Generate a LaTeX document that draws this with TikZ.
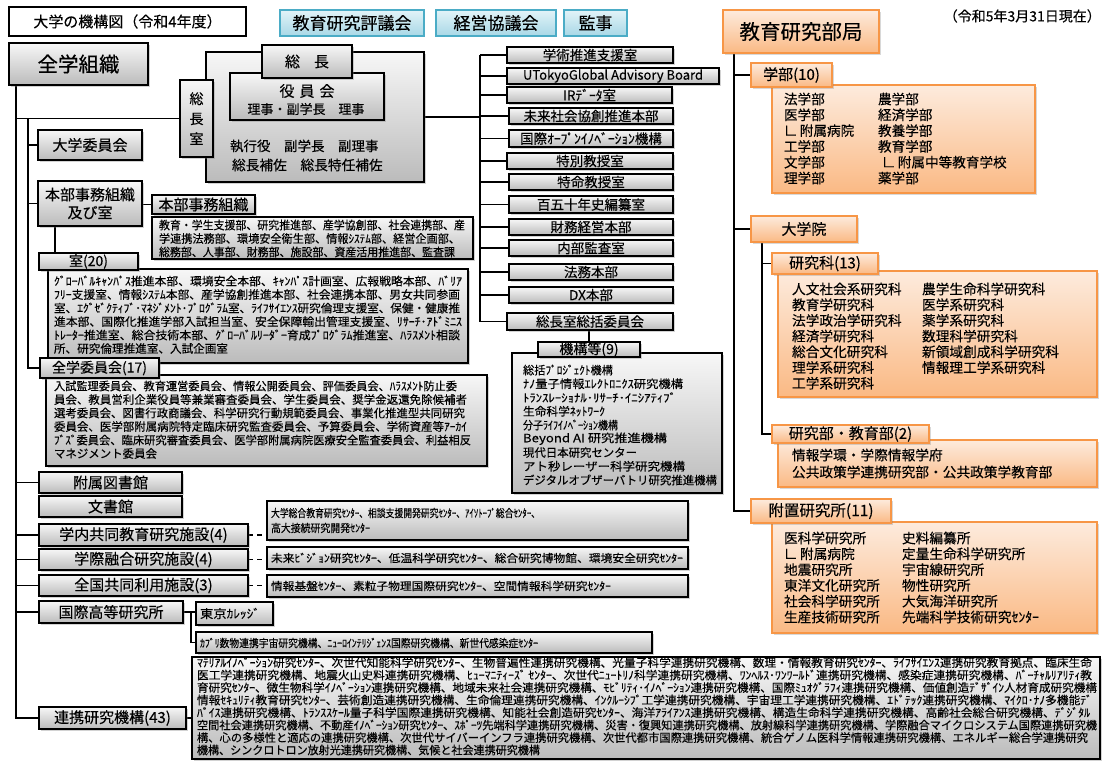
\documentclass[tikz,border=0pt]{standalone}
\usepackage{fontspec}
\setmainfont{Noto Sans CJK JP}[FakeBold=0.25]
\usepackage{graphicx}
\usetikzlibrary{shadows}
\pgfdeclarelayer{bg}
\pgfsetlayers{bg,main}
\definecolor{gtop}{HTML}{F7F7F7}
\definecolor{gbot}{HTML}{BBBBBB}
\definecolor{otop}{HTML}{FDEBDD}
\definecolor{obot}{HTML}{FAB984}
\definecolor{oline}{HTML}{F79646}
\definecolor{btop}{HTML}{E2F3F8}
\definecolor{bbot}{HTML}{A8D8E6}
\definecolor{bline}{HTML}{4BACC6}
\newcommand{\fs}[1]{\fontsize{#1}{#1}\selectfont}
\newcommand{\mybox}[7][]{\node[anchor=north west,inner sep=0pt,outer sep=0pt,minimum width=#5pt-#3pt,minimum height=#6pt-#4pt,#1] (#2) at (#3,#4) {#7};}
\newcommand{\myline}[6][11.5]{\node[anchor=west,inner sep=0pt,outer sep=0pt,font=\fs{#1}] (#2) at (#3,#4) {\resizebox{#5pt}{\height}{#6}};}
\begin{document}
\begin{tikzpicture}[x=1pt,y=-1pt,
  gbox/.style={draw=black,line width=1.2pt,top color=gtop,bottom color=gbot,drop shadow={shadow xshift=1.5pt,shadow yshift=-1.5pt,opacity=0.35}},
  obox/.style={draw=oline,line width=1.2pt,top color=otop,bottom color=obot,drop shadow={shadow xshift=1.5pt,shadow yshift=-1.5pt,opacity=0.3}},
  bbox/.style={draw=bline,line width=1.2pt,top color=btop,bottom color=bbot},
  wbox/.style={draw=black,line width=1.2pt,fill=white},
  conn/.style={draw=black,line width=1.2pt},
  dconn/.style={conn,dash pattern=on 5pt off 4pt},
  lbl/.style={anchor=west,inner sep=0pt,outer sep=0pt}]
\useasboundingbox (0,0) rectangle (1110,761);

% ---------- top row
\mybox[wbox,font=\fs{15}]{title}{9}{7}{246}{36}{大学の機構図（令和4年度）}
\mybox[bbox,font=\fs{17}]{hyogi}{280}{10}{424}{36}{教育研究評議会}
\mybox[bbox,font=\fs{17}]{keiei}{436}{10}{556}{36}{経営協議会}
\mybox[bbox,font=\fs{17}]{kanji}{564}{10}{627}{36}{監事}
\node[anchor=east,inner sep=0pt,font=\fs{14}] (date) at (1101,16) {（令和5年3月31日現在）};

\mybox[gbox,font=\fs{20.5}]{zengaku}{9}{43}{148}{85}{全学組織}

% ---------- president group
\mybox[gbox]{socho}{206}{52}{424}{182}{}
\mybox[gbox]{yakuin}{230}{73}{384}{120}{}
\mybox[gbox,font=\fs{15}]{sochot}{262}{45}{352}{78}{総\hspace{14pt}長}
\node[font=\fs{15},inner sep=0pt] (yakuint) at (307,91) {役\hspace{5pt}員\hspace{5pt}会};
\node[font=\fs{13},inner sep=0pt] (yakuins) at (306,109) {理事・副学長　理事};
\node[lbl,font=\fs{13.5}] (shikko) at (230,146) {執行役　副学長　副理事};
\node[lbl,font=\fs{13.7}] (hosa) at (232,165) {総長補佐　総長特任補佐};
\mybox[gbox,font=\fs{14},align=center]{soshitsu}{180}{80}{213}{157}{総\\[6pt]長\\[6pt]室}

% ---------- left column
\mybox[gbox,font=\fs{15}]{daiiin}{38}{130}{142}{160}{大学委員会}
\mybox[gbox,font={\fontsize{15}{18}\selectfont},align=center]{honbuoyobi}{38}{181}{142}{226}{本部事務組織\\及び室}

\mybox[gbox]{honbut}{152}{217}{473}{259}{}
\mybox[gbox,font=\fs{15}]{honbuh}{152}{195}{255}{214}{本部事務組織}
\myline{hb1}{159}{225}{306}{教育・学生支援部、研究推進部、産学協創部、社会連携部、産}
\myline{hb2}{159}{238.5}{301}{学連携法務部、環境安全衛生部、情報ｼｽﾃﾑ部、経営企画部、}
\myline{hb3}{159}{252}{296}{総務部、人事部、財務部、施設部、資産活用推進部、監査課}

\mybox[gbox]{shitsut}{48}{269}{468}{363}{}
\mybox[gbox,font=\fs{14}]{shitsuh}{39}{253}{138}{270}{室(20)}
\myline{sh1}{54}{281}{408}{ｸﾞﾛｰﾊﾞﾙｷｬﾝﾊﾟｽ推進本部、環境安全本部、ｷｬﾝﾊﾟｽ計画室、広報戦略本部、ﾊﾞﾘｱ}
\myline{sh2}{54}{294.5}{406}{ﾌﾘｰ支援室、情報ｼｽﾃﾑ本部、産学協創推進本部、社会連携本部、男女共同参画}
\myline{sh3}{54}{308}{406}{室、ｴｸﾞｾﾞｸﾃｨﾌﾞ･ﾏﾈｼﾞﾒﾝﾄ･ﾌﾟﾛｸﾞﾗﾑ室、ﾗｲﾌｻｲｴﾝｽ研究倫理支援室、保健・健康推}
\myline{sh4}{54}{321.5}{408}{進本部、国際化推進学部入試担当室、安全保障輸出管理支援室、ﾘｻｰﾁ･ｱﾄﾞﾐﾆｽ}
\myline{sh5}{54}{335}{406}{ﾄﾚｰﾀｰ推進室、総合技術本部、ｸﾞﾛｰﾊﾞﾙﾘｰﾀﾞｰ育成ﾌﾟﾛｸﾞﾗﾑ推進室、ﾊﾗｽﾒﾝﾄ相談}
\myline{sh6}{54}{348.5}{174}{所、研究倫理推進室、入試企画室}

\mybox[gbox]{zgt}{46}{375}{487}{466}{}
\mybox[gbox,font=\fs{14}]{zgh}{40}{358}{159}{378}{全学委員会(17)}
\myline{zg1}{54}{386}{403}{入試監理委員会、教育運営委員会、情報公開委員会、評価委員会、ﾊﾗｽﾒﾝﾄ防止委}
\myline{zg2}{54}{399.5}{413}{員会、教員営利企業役員等兼業審査委員会、学生委員会、奨学金返還免除候補者}
\myline{zg3}{54}{413}{411}{選考委員会、図書行政商議会、科学研究行動規範委員会、事業化推進型共同研究}
\myline{zg4}{54}{426.5}{413}{委員会、医学部附属病院特定臨床研究監査委員会、予算委員会、学術資産等ｱｰｶｲ}
\myline{zg5}{54}{440}{417}{ﾌﾞｽﾞ委員会、臨床研究審査委員会、医学部附属病院医療安全監査委員会、利益相反}
\myline{zg6}{54}{453.5}{103}{マネジメント委員会}

\mybox[gbox,font=\fs{15}]{fuzoku}{39}{472}{182}{493}{附属図書館}
\mybox[gbox,font=\fs{15}]{bunsho}{39}{496}{182}{517}{文書館}
\mybox[gbox,font=\fs{15}]{gakunai}{39}{524}{248}{546}{学内共同教育研究施設(4)}
\mybox[gbox,font=\fs{15}]{gakusai}{39}{549}{248}{570}{学際融合研究施設(4)}
\mybox[gbox,font=\fs{15}]{zenkoku}{39}{575}{248}{596}{全国共同利用施設(3)}
\mybox[gbox,font=\fs{15}]{kokusai}{39}{601}{183}{623}{国際高等研究所}
\mybox[gbox,font=\fs{15}]{renkei}{39}{707}{186}{729}{連携研究機構(43)}

\mybox[gbox]{gakunait}{267}{501}{688}{540}{}
\myline[11]{gn1}{271}{513}{269}{大学総合教育研究ｾﾝﾀｰ、相談支援開発研究ｾﾝﾀｰ、ｱｲｿﾄｰﾌﾟ総合ｾﾝﾀｰ、}
\myline[11]{gn2}{271}{528}{99}{高大接続研究開発ｾﾝﾀｰ}
\mybox[gbox]{gakusait}{267}{547}{688}{569}{}
\myline[11]{gs1}{271}{558}{412}{未来ﾋﾞｼﾞｮﾝ研究ｾﾝﾀｰ、低温科学研究ｾﾝﾀｰ、総合研究博物館、環境安全研究ｾﾝﾀｰ}
\mybox[gbox]{zenkokut}{267}{575}{688}{597}{}
\myline[11]{zk1}{271}{586}{340}{情報基盤ｾﾝﾀｰ、素粒子物理国際研究ｾﾝﾀｰ、空間情報科学研究ｾﾝﾀｰ}
\mybox[gbox]{tokyo}{196}{602}{273}{625}{}
\myline[12]{tk1}{200}{613.5}{60}{東京ｶﾚｯｼﾞ}
\mybox[gbox]{kavli}{196}{632}{652}{653}{}
\myline[11]{kv1}{200}{643}{338}{ｶﾌﾞﾘ数物連携宇宙研究機構、ﾆｭｰﾛｲﾝﾃﾘｼﾞｪﾝｽ国際研究機構、新世代感染症ｾﾝﾀｰ}

\mybox[gbox]{renkeit}{192}{657}{1100}{759}{}
\myline{rk1}{197}{662.5}{895}{ﾏﾃﾘｱﾙｲﾉﾍﾞｰｼｮﾝ研究ｾﾝﾀｰ、次世代知能科学研究ｾﾝﾀｰ、生物普遍性連携研究機構、光量子科学連携研究機構、数理・情報教育研究ｾﾝﾀｰ、ﾗｲﾌｻｲｴﾝｽ連携研究教育拠点、臨床生命}
\myline{rk2}{197}{675}{895}{医工学連携研究機構、地震火山史料連携研究機構、ﾋｭｰﾏﾆﾃｨｰｽﾞ ｾﾝﾀｰ、次世代ﾆｭｰﾄﾘﾉ科学連携研究機構、ﾜﾝﾍﾙｽ･ﾜﾝﾜｰﾙﾄﾞ連携研究機構、感染症連携研究機構、ﾊﾞｰﾁｬﾙﾘｱﾘﾃｨ教}
\myline{rk3}{197}{687.5}{900}{育研究ｾﾝﾀｰ、微生物科学ｲﾉﾍﾞｰｼｮﾝ連携研究機構、地域未来社会連携研究機構、ﾓﾋﾞﾘﾃｨ･ｲﾉﾍﾞｰｼｮﾝ連携研究機構、国際ﾐｭｵｸﾞﾗﾌｨ連携研究機構、価値創造ﾃﾞｻﾞｲﾝ人材育成研究機構}
\myline{rk4}{197}{700}{895}{情報ｾｷｭﾘﾃｨ教育研究ｾﾝﾀｰ、芸術創造連携研究機構、生命倫理連携研究機構、ｲﾝｸﾙｰｼﾌﾞ工学連携研究機構、宇宙理工学連携研究機構、ｴﾄﾞﾃｯｸ連携研究機構、ﾏｲｸﾛ･ﾅﾉ多機能ﾃﾞ}
\myline{rk5}{197}{712.5}{893}{ﾊﾞｲｽ連携研究機構、ﾄﾗﾝｽｽｹｰﾙ量子科学国際連携研究機構、知能社会創造研究ｾﾝﾀｰ、海洋ｱﾗｲｱﾝｽ連携研究機構、構造生命科学連携研究機構、高齢社会総合研究機構、ﾃﾞｼﾞﾀﾙ}
\myline{rk6}{197}{725}{900}{空間社会連携研究機構、不動産ｲﾉﾍﾞｰｼｮﾝ研究ｾﾝﾀｰ、ｽﾎﾟｰﾂ先端科学連携研究機構、災害・復興知連携研究機構、放射線科学連携研究機構、学際融合マイクロシステム国際連携研究機}
\myline{rk7}{197}{737.5}{891}{構、心の多様性と適応の連携研究機構、次世代サイバーインフラ連携研究機構、次世代都市国際連携研究機構、統合ゲノム医科学情報連携研究機構、エネルギー総合学連携研究}
\myline{rk8}{197}{750}{343}{機構、シンクロトロン放射光連携研究機構、気候と社会連携研究機構}

% ---------- president's office column
\mybox[gbox,font=\fs{13.5}]{gakujutsu}{507}{47}{673}{63}{学術推進支援室}
\mybox[gbox,font=\fs{13}]{utokyo}{507}{68}{719}{84}{UTokyoGlobal Advisory Board}
\mybox[gbox,font=\fs{13.5}]{irdata}{507}{87}{672}{103}{IRﾃﾞｰﾀ室}
\mybox[gbox,font=\fs{13.5}]{miraisha}{509}{108}{673}{124}{未来社会協創推進本部}
\mybox[gbox,font=\fs{13.5}]{openinno}{509}{130}{673}{147}{国際ｵｰﾌﾟﾝｲﾉﾍﾞｰｼｮﾝ機構}
\mybox[gbox,font=\fs{13.5}]{tokubetsu}{507}{153}{673}{169}{特別教授室}
\mybox[gbox,font=\fs{13.5}]{tokumei}{509}{174}{673}{190}{特命教授室}
\mybox[gbox,font=\fs{13.5}]{hyakugo}{509}{196}{673}{213}{百五十年史編纂室}
\mybox[gbox,font=\fs{13.5}]{zaimu}{509}{219}{673}{235}{財務経営本部}
\mybox[gbox,font=\fs{13.5}]{naibu}{509}{240}{673}{256}{内部監査室}
\mybox[gbox,font=\fs{13.5}]{homu}{509}{264}{673}{280}{法務本部}
\mybox[gbox,font=\fs{13.5}]{dxhq}{509}{287}{673}{303}{DX本部}
\mybox[gbox,font=\fs{13.5}]{sokatsu}{507}{313}{673}{330}{総長室総括委員会}

\mybox[gbox]{kikout}{512}{353}{722}{493}{}
\mybox[gbox,font=\fs{14}]{kikouh}{538}{342}{640}{357}{機構等(9)}
\myline{kk1}{523}{370}{90}{総括ﾌﾟﾛｼﾞｪｸﾄ機構}
\myline{kk2}{523}{383.75}{160}{ﾅﾉ量子情報ｴﾚｸﾄﾛﾆｸｽ研究機構}
\myline{kk3}{523}{397.5}{153}{ﾄﾗﾝｽﾚｰｼｮﾅﾙ･ﾘｻｰﾁ･ｲﾆｼｱﾃｨﾌﾞ}
\myline{kk4}{523}{411.25}{82}{生命科学ﾈｯﾄﾜｰｸ}
\myline{kk5}{523}{425}{95}{分子ﾗｲﾌｲﾉﾍﾞｰｼｮﾝ機構}
\myline{kk6}{523}{438.75}{144}{Beyond AI 研究推進機構}
\myline{kk7}{523}{452.5}{114}{現代日本研究センター}
\myline{kk8}{523}{466.25}{162}{アト秒レーザー科学研究機構}
\myline{kk9}{523}{480}{194}{デジタルオブザーバトリ研究推進機構}

% ---------- right side (orange)
\mybox[obox,font=\fs{20.5}]{kyoiku}{723}{10}{879}{53}{教育研究部局}
\mybox[obox]{gakubut}{772}{85}{1035}{193}{}
\mybox[obox,font=\fs{15}]{gakubuh}{751}{63}{832}{87}{学部(10)}
\foreach \t [count=\i] in {法学部,医学部,∟\,附属病院,工学部,文学部,理学部}
  \node[lbl,font=\fs{13.6}] (gka\i) at (784,{99+(\i-1)*15.8}) {\t};
\foreach \t [count=\i] in {農学部,経済学部,教養学部,教育学部,\hspace{4pt}∟\,附属中等教育学校,薬学部}
  \node[lbl,font=\fs{13.6}] (gkb\i) at (878,{99+(\i-1)*15.8}) {\t};

\mybox[obox,font=\fs{15}]{daigakuin}{751}{216}{857}{242}{大学院}
\mybox[obox]{kenkyukat}{778}{271}{1097}{397}{}
\mybox[obox,font=\fs{15}]{kenkyukah}{772}{253}{878}{274}{研究科(13)}
\foreach \t [count=\i] in {人文社会系研究科,教育学研究科,法学政治学研究科,経済学研究科,総合文化研究科,理学系研究科,工学系研究科}
  \node[lbl,font=\fs{13.7}] (kka\i) at (792,{289+(\i-1)*15.7}) {\t};
\foreach \t [count=\i] in {農学生命科学研究科,医学系研究科,薬学系研究科,数理科学研究科,新領域創成科学研究科,情報理工学系研究科}
  \node[lbl,font=\fs{13.7}] (kkb\i) at (922,{289+(\i-1)*15.7}) {\t};

\mybox[obox]{kenkyubut}{778}{440}{1097}{487}{}
\mybox[obox,font=\fs{15}]{kenkyubuh}{772}{425}{929}{443}{研究部・教育部(2)}
\node[lbl,font=\fs{13.7}] (kb1) at (792,455) {情報学環・学際情報学府};
\node[lbl,font=\fs{13.7}] (kb2) at (792,472) {公共政策学連携研究部・公共政策学教育部};

\mybox[obox]{fuchit}{772}{522}{1097}{633}{}
\mybox[obox,font=\fs{15.5}]{fuchih}{751}{499}{891}{523}{附置研究所(11)}
\foreach \t [count=\i] in {医科学研究所,∟\,附属病院,地震研究所,東洋文化研究所,社会科学研究所,生産技術研究所}
  \node[lbl,font=\fs{13.7}] (fca\i) at (784,{538+(\i-1)*15.8}) {\t};
\foreach \t [count=\i] in {史料編纂所,定量生命科学研究所,宇宙線研究所,物性研究所,大気海洋研究所,先端科学技術研究ｾﾝﾀｰ}
  \node[lbl,font=\fs{13.7}] (fcb\i) at (902,{538+(\i-1)*15.8}) {\t};

% ---------- connectors
\coordinate (L1) at (16,0);
\coordinate (L2) at (28,0);
\coordinate (L3) at (480,0);
\coordinate (R1) at (734,0);
\coordinate (R2) at (762,0);
\coordinate (K1) at (191,0);
\coordinate (X55) at (55,0);
\begin{pgfonlayer}{bg}
\fill[white] (0,0) rectangle (1110,761);
\draw[conn] (zengaku.south -| L1) -- (renkei.west -| L1) -- (renkei.west);
\foreach \n in {fuzoku,gakunai,gakusai,zenkoku,kokusai}
  \draw[conn] (\n.west -| L1) -- (\n.west);
\draw[conn] (soshitsu.west -| L1) -- (soshitsu.west);
\draw[conn] (soshitsu.west -| L2) -- (zgh.west -| L2) -- (zgh.west);
\foreach \n in {daiiin,honbuoyobi}
  \draw[conn] (\n.west -| L2) -- (\n.west);
\draw[conn] (honbuoyobi.east |- honbuh.west) -- (honbuh.west);
\draw[conn] (honbuoyobi.south -| X55) -- (shitsuh.north -| X55);
\draw[conn] (socho.east) -- (socho.east -| L3);
\draw[conn] (gakujutsu.west -| L3) -- (sokatsu.west -| L3);
\foreach \n in {gakujutsu,utokyo,irdata,miraisha,openinno,tokubetsu,tokumei,hyakugo,zaimu,naibu,homu,dxhq,sokatsu}
  \draw[conn] (\n.west -| L3) -- (\n.west);
\draw[conn] (sokatsu.south -| kikouh.north) -- (kikouh.north);
\draw[conn] (kyoiku.south -| R1) -- (fuchih.west -| R1) -- (fuchih.west);
\foreach \n in {gakubuh,daigakuin}
  \draw[conn] (\n.west -| R1) -- (\n.west);
\draw[conn] (daigakuin.south -| R2) -- (kenkyubuh.west -| R2) -- (kenkyubuh.west);
\draw[conn] (kenkyukah.west -| R2) -- (kenkyukah.west);
\draw[dconn] (gakunai.east) -- (gakunai.east -| gakunait.west);
\draw[dconn] (gakusai.east) -- (gakusai.east -| gakusait.west);
\draw[dconn] (zenkoku.east) -- (zenkoku.east -| zenkokut.west);
\draw[conn] (kokusai.east) -- (kokusai.east -| tokyo.west);
\draw[conn] (kokusai.east -| K1) -- (kavli.west -| K1) -- (kavli.west);
\draw[conn] (renkei.east) -- (renkei.east -| renkeit.west);
\end{pgfonlayer}
\end{tikzpicture}
\end{document}
